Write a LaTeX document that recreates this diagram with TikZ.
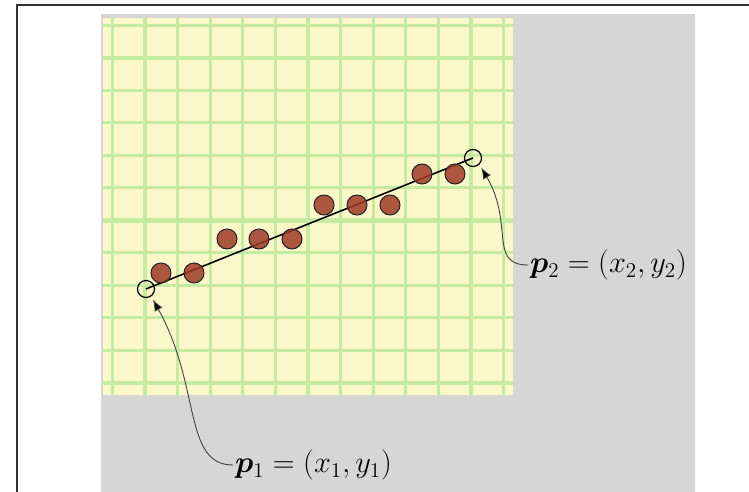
\documentclass[tikz,border=0pt]{standalone}
\usepackage{amsmath,bm}
\usetikzlibrary{arrows.meta}

\definecolor{paper}{RGB}{250,248,200}
\definecolor{gridgreen}{RGB}{197,234,162}
\definecolor{bggray}{RGB}{214,214,214}
\definecolor{dotred}{RGB}{160,58,38}

\tikzset{
  thinline/.style={gridgreen, line width=1.7pt},
  thickline/.style={gridgreen, line width=2.8pt},
  dot/.style={circle, draw=black!85, line width=0.6pt, fill=dotred, fill opacity=0.85, minimum size=0.4cm, inner sep=0pt},
  endpt/.style={circle, draw=black, line width=0.7pt, minimum size=0.34cm, inner sep=0pt},
  leader/.style={->, black!75, line width=0.5pt, shorten >=2pt},
  lab/.style={anchor=west, inner sep=1pt, font=\fontsize{17}{20}\selectfont}
}

\begin{document}
\begin{tikzpicture}[x=0.02cm, y=0.02cm, >={Latex[length=6.5pt,width=5pt,fill=black]}]
  \useasboundingbox (0,0) rectangle (749,492);

  % frame (top and left edges only)
  \draw[black!80, line width=0.9pt] (17,0) -- (17,487) -- (749,487);

  % gray background and the sheet of graph paper
  \fill[bggray] (101,0) rectangle (695,478);
  \fill[paper] (103,97) rectangle (513,474);

  % grid: cell 32.6 x 32.5, every fifth line thicker
  \def\gx{32.6}
  \def\gy{32.5}
  \begin{scope}
    \clip (103,97) rectangle (513,474);
    \foreach \i in {-1,...,11}
      \draw[thinline] ({145+\gx*\i},97) -- ({145+\gx*\i},474);
    \foreach \j in {-1,...,10}
      \draw[thinline] (103,{434-\gy*\j}) -- (513,{434-\gy*\j});
    \foreach \i in {0,5,10}
      \draw[thickline] ({145+\gx*\i},97) -- ({145+\gx*\i},474);
    \foreach \j in {0,5,10}
      \draw[thickline] (103,{434-\gy*\j}) -- (513,{434-\gy*\j});
  \end{scope}

  % end points of the fitted segment
  \node[endpt] (p1) at (146,203) {};
  \node[endpt] (p2) at (473,334) {};
  \draw[line width=0.9pt] (p1.center) -- (p2.center);

  % data points (cell centres)
  \foreach \x/\y [count=\k] in {161/219, 194/219, 227/253, 259/253, 292/253,
                                324/287, 357/287, 390/287, 422/318, 455/318}
    \node[dot] (d\k) at (\x,\y) {};

  % labels
  \node[lab] (lab1) at (233,27) {$\bm{p}_1=(x_1,y_1)$};
  \node[lab] (lab2) at (528,227) {$\bm{p}_2=(x_2,y_2)$};

  % leaders
  \draw[leader] (lab1.west) .. controls +(-50,0) and +(50,-90) .. (p1.-55);
  \draw[leader] (lab2.west) .. controls +(-40,0) and +(35,-60) .. (p2.-45);

\end{tikzpicture}
\end{document}
